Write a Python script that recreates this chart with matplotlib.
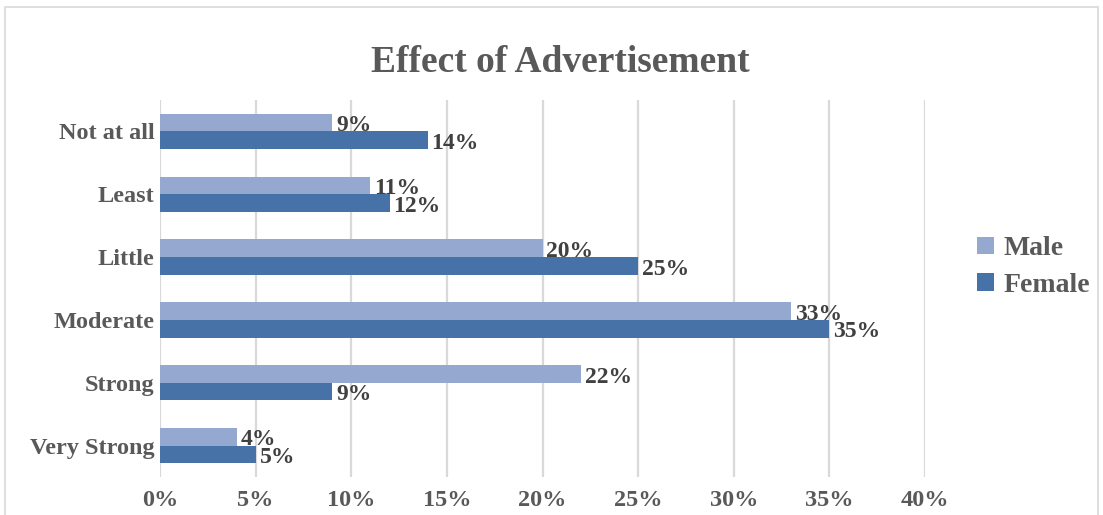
import numpy as np
import matplotlib.pyplot as plt
from matplotlib.patches import Rectangle

# Survey responses, top to bottom as shown on the chart
categories = ["Not at all", "Least", "Little", "Moderate", "Strong", "Very Strong"]
male = [9, 11, 20, 33, 22, 4]
female = [14, 12, 25, 35, 9, 5]
x_ticks = [0, 5, 10, 15, 20, 25, 30, 35, 40]

male_color = "#95A9D0"
female_color = "#4672A8"
text_gray = "#595959"
label_gray = "#404040"

plt.rcParams["font.family"] = ["Liberation Serif", "DejaVu Serif"]
plt.rcParams["font.weight"] = "bold"

fig = plt.figure(figsize=(11.03, 5.15), dpi=100)
ax = fig.add_axes([160 / 1103, 1 - 477 / 515, 765 / 1103, 377 / 515])

# outer chart frame
fig.patches.append(Rectangle((5 / 1103, -0.02), 1093 / 1103, 1 - 7 / 515 + 0.02,
                             transform=fig.transFigure, fill=False,
                             edgecolor="#d9d9d9", linewidth=1.2))

y = np.arange(len(categories))[::-1]
h = 0.28
ax.barh(y + h / 2, male, height=h, color=male_color, label="Male", zorder=3)
ax.barh(y - h / 2, female, height=h, color=female_color, label="Female", zorder=3)

for yi, m, f in zip(y, male, female):
    ax.text(m + 0.2, yi + h / 2 - 0.05, f"{m}%", va="center", ha="left",
            fontsize=17, fontweight="bold", color=label_gray, zorder=4)
    ax.text(f + 0.2, yi - h / 2 - 0.05, f"{f}%", va="center", ha="left",
            fontsize=17, fontweight="bold", color=label_gray, zorder=4)

ax.set_xlim(0, 40)
ax.set_ylim(-0.5, len(categories) - 0.5)
ax.set_xticks(x_ticks)
ax.set_xticklabels([f"{t}%" for t in x_ticks])
ax.set_yticks(y)
ax.set_yticklabels(categories)
ax.tick_params(axis="both", length=0, labelsize=17.5, labelcolor=text_gray)
ax.tick_params(axis="x", pad=9)
ax.tick_params(axis="y", pad=4)
ax.xaxis.grid(True, color="#d9d9d9", linewidth=1.6, zorder=0)
for s in ax.spines.values():
    s.set_visible(False)

fig.text(560 / 1103, 1 - 62 / 515, "Effect of Advertisement", ha="center", va="center",
         fontsize=27, fontweight="bold", color=text_gray)

leg = fig.legend(loc="center left", bbox_to_anchor=(977 / 1103, 1 - 267 / 515),
                 frameon=False, fontsize=20, handlelength=0.6, handleheight=0.6,
                 handletextpad=0.35, labelspacing=0.4, borderpad=0, borderaxespad=0)
for t in leg.get_texts():
    t.set_color(text_gray)

fig.savefig("out.png", dpi=100)
